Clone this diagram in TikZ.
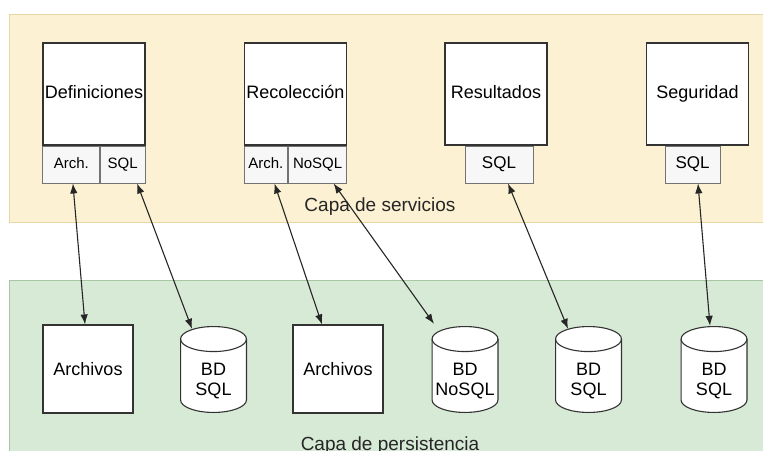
\documentclass[tikz,border=0pt]{standalone}
\usepackage{fontspec}
\setmainfont{Liberation Sans}
\usetikzlibrary{arrows.meta,positioning,calc}

\definecolor{capaS}{HTML}{FCF1D2}
\definecolor{capaSborde}{HTML}{E6D8A6}
\definecolor{capaP}{HTML}{D7EAD6}
\definecolor{capaPborde}{HTML}{A8C6A4}

\newcommand{\bdtexto}[2]{\raisebox{-12pt}[\height][\depth]{\begin{tabular}{@{}c@{}}#1\\#2\end{tabular}}}

\begin{document}
\begin{tikzpicture}[x=1pt,y=-1pt,
  modulo/.style={draw=black!80,line width=1.1pt,fill=white,minimum width=102pt,minimum height=102pt,inner sep=0pt,text height=13pt,text depth=4pt,font=\fontsize{18}{20}\selectfont},
  sub/.style={draw=black!55,line width=0.9pt,fill=black!3,minimum height=37pt,inner sep=0pt,text height=11pt,text depth=3pt,font=\fontsize{15}{17}\selectfont},
  almacen/.style={draw=black!80,line width=1.1pt,fill=white,minimum width=90pt,minimum height=88pt,inner sep=0pt,font=\fontsize{18}{20}\selectfont},
  bd/.style={rectangle,minimum width=67pt,minimum height=87pt,inner sep=0pt,font=\fontsize{18}{20}\selectfont,
    path picture={
      \filldraw[draw=black!80,line width=1.1pt,fill=white]
        ([xshift=0.55pt,yshift=-13.05pt]path picture bounding box.north west)
        -- ([xshift=0.55pt,yshift=13.05pt]path picture bounding box.south west)
        arc[start angle=180,end angle=360,x radius=32.95pt,y radius=12.5pt]
        -- ([xshift=-0.55pt,yshift=-13.05pt]path picture bounding box.north east)
        arc[start angle=0,end angle=180,x radius=32.95pt,y radius=12.5pt] -- cycle;
      \draw[black!80,line width=1.1pt]
        ([xshift=0.55pt,yshift=-13.05pt]path picture bounding box.north west)
        arc[start angle=180,end angle=360,x radius=32.95pt,y radius=12.5pt];
    }},
  enlace/.style={line width=1.1pt,draw=black!85,{Latex[length=10pt,width=7.5pt]}-{Latex[length=10pt,width=7.5pt]}},
  capa/.style={font=\fontsize{19}{21}\selectfont,text=black!85}]
  \useasboundingbox (0,0) rectangle (763,450);
  % capas
  \filldraw[fill=capaS,draw=capaSborde,line width=1pt] (9,14) rectangle (775,222);
  \filldraw[fill=capaP,draw=capaPborde,line width=1pt] (9,280) rectangle (775,470);
  \node[capa] (capaServ) at (380,207) {Capa de servicios};
  \node[capa] (capaPers) at (390,446) {Capa de persistencia};

  % servicios
  \node[modulo] (def) at (94,94) {Definiciones};
  \node[sub,minimum width=57pt,anchor=north west] (defA) at (def.south west) {Arch.};
  \node[sub,minimum width=45pt,anchor=north east] (defS) at (def.south east) {SQL};
  \node[modulo] (rec) at (295.5,94) {Recolección};
  \node[sub,minimum width=43pt,anchor=north west] (recA) at (rec.south west) {Arch.};
  \node[sub,minimum width=58pt,anchor=north east] (recN) at (rec.south east) {NoSQL};
  \node[modulo] (res) at (496,94) {Resultados};
  \node[sub,minimum width=68pt,anchor=north,font=\fontsize{17}{19}\selectfont] (resS) at ($(res.south)+(3,0)$) {SQL};
  \node[modulo] (seg) at (697.5,94) {Seguridad};
  \node[sub,minimum width=55pt,anchor=north,font=\fontsize{17}{19}\selectfont] (segS) at ($(seg.south)+(-5,0)$) {SQL};

  % persistencia
  \node[almacen] (arch1) at (88,369) {Archivos};
  \node[bd] (bd1) at (213.5,369.5) {\bdtexto{BD}{SQL}};
  \node[almacen] (arch2) at (338,369) {Archivos};
  \node[bd] (bdN) at (465,369.5) {\bdtexto{BD}{NoSQL}};
  \node[bd] (bd3) at (588.5,369.5) {\bdtexto{BD}{SQL}};
  \node[bd] (bd4) at (714,369.5) {\bdtexto{BD}{SQL}};

  \draw[enlace] ($(defA.south)+(1.5,0)$) -- ($(arch1.north)+(-3,0)$);
  \draw[enlace] ($(defS.south)+(14.5,0)$) -- ($(bd1.north)+(-21.5,3)$);
  \draw[enlace] ($(recA.south)+(8.5,0)$) -- ($(arch2.north)+(-16,0)$);
  \draw[enlace] ($(recN.south)+(16,0)$) -- ($(bdN.north)+(-31,-2)$);
  \draw[enlace] ($(resS.south)+(9,0)$) -- ($(bd3.north)+(-20.5,3)$);
  \draw[enlace] ($(segS.south)+(5.5,0)$) -- ($(bd4.north)+(-4,0)$);
\end{tikzpicture}
\end{document}
